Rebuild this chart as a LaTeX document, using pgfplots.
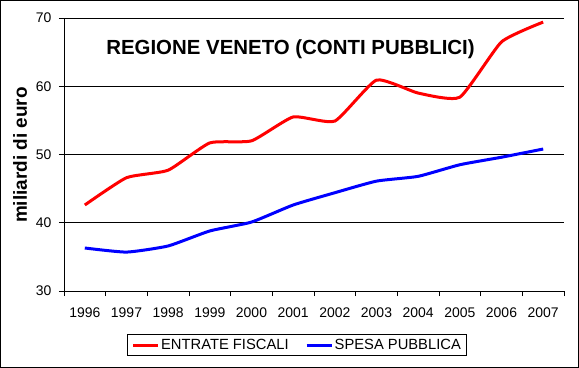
\documentclass[border=0pt]{standalone}
\usepackage{pgfplots}
\pgfplotsset{compat=1.18}
\usepackage{fontspec}
\setmainfont{Liberation Sans}
\begin{document}
\begin{tikzpicture}
\useasboundingbox (0,0) rectangle (579bp,368bp);
\draw[line width=1bp] (0.5bp,0.5bp) rectangle (578.5bp,367.5bp);
\begin{axis}[
  at={(64bp,77bp)}, anchor=south west,
  width=500bp, height=273bp, scale only axis,
  xmin=0, xmax=12, ymin=30, ymax=70,
  axis x line*=bottom, axis y line*=left,
  axis line style={line width=0.8bp, black},
  xtick={0.5,1.5,...,11.5},
  xticklabels={1996,1997,1998,1999,2000,2001,2002,2003,2004,2005,2006,2007},
  minor xtick={0,1,...,12},
  major x tick style={draw=none},
  minor tick length=5bp,
  major tick length=5bp,
  tick align=outside,
  tick style={black, line width=0.8bp},
  ytick={30,40,50,60,70},
  ymajorgrids, grid style={black, line width=0.8bp},
  /pgf/number format/assume math mode=true,
  tick label style={font=\fontsize{14}{16}\selectfont},
  xticklabel style={yshift=-8bp},
  yticklabel style={xshift=-4bp},
  ylabel={\bfseries miliardi di euro},
  every axis y label/.style={at={(rel axis cs:-0.088,0.498)}, rotate=90, anchor=center, font=\fontsize{19}{21}\selectfont},
  legend columns=2,
  legend style={at={(rel axis cs:0.466,-0.198)}, anchor=center, draw=black, line width=0.8bp,
    font=\fontsize{14.8}{16}\selectfont, inner xsep=4bp, inner ysep=3.5bp,
    nodes={inner xsep=1.5bp, inner ysep=1bp},
    /tikz/every even column/.append style={column sep=15bp}},
  legend image code/.code={\draw[#1, line width=3bp] (0,0) -- (25bp,0);},
  clip=false,
]
\addplot[red, line width=3bp, smooth, tension=0.3] coordinates {
(0.5,42.6) (1.5,46.6) (2.5,47.7) (3.5,51.7) (4.5,52.0) (5.5,55.5)
(6.5,54.9) (7.5,60.9) (8.5,59.0) (9.5,58.4) (10.5,66.5) (11.5,69.4)};
\addlegendentry{ENTRATE FISCALI}
\addplot[blue, line width=3bp, smooth, tension=0.3] coordinates {
(0.5,36.3) (1.5,35.7) (2.5,36.6) (3.5,38.8) (4.5,40.1) (5.5,42.6)
(6.5,44.4) (7.5,46.1) (8.5,46.8) (9.5,48.5) (10.5,49.6) (11.5,50.8)};
\addlegendentry{SPESA PUBBLICA}
\node[font=\bfseries\fontsize{20.5}{23}\selectfont] at (rel axis cs:0.453,0.886) {REGIONE VENETO (CONTI PUBBLICI)};
\end{axis}
\end{tikzpicture}
\end{document}
